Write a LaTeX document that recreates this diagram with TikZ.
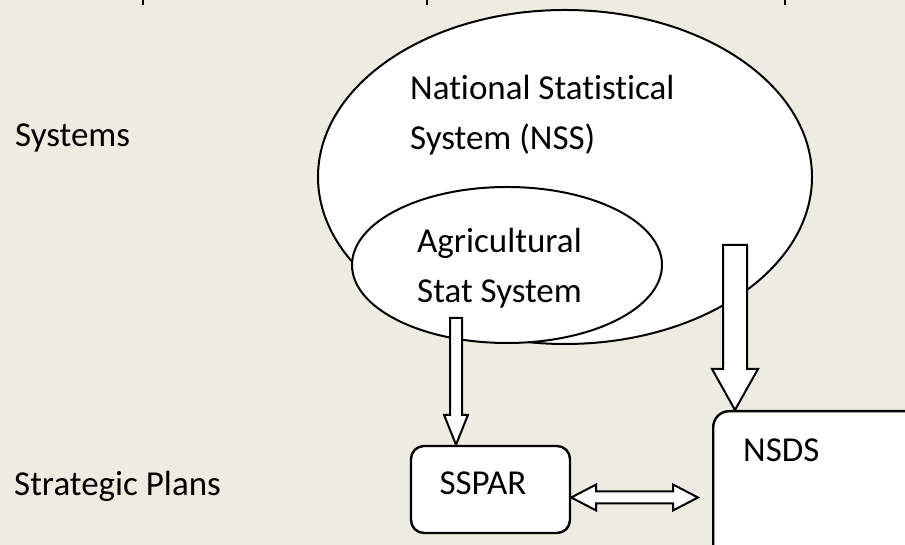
\documentclass[tikz,border=0pt]{standalone}
\usepackage{fontspec}
\setmainfont{Carlito}[Ligatures=NoCommon]
\usepackage{tikz}
\usetikzlibrary{calc,shapes.geometric}

\definecolor{slidebg}{HTML}{EEECE1}

% vertical block arrow: start, end, half shaft, half head, head length
\newcommand{\downblock}[5]{%
  \draw[blockarrow] let \p1=(#1), \p2=(#2) in
    (\x1-#3,\y1) -- (\x1+#3,\y1) -- (\x1+#3,\y2+#5) -- (\x1+#4,\y2+#5)
    -- (\x1,\y2) -- (\x1-#4,\y2+#5) -- (\x1-#3,\y2+#5) -- cycle;}

\begin{document}
\begin{tikzpicture}[%
    x=1pt, y=1pt,
    every node/.style={
        font=\fontsize{35}{50}\selectfont,
        inner sep=0pt,
    },
    oval/.style={draw, ellipse, fill=white, line width=2pt},
    planbox/.style={draw, fill=white, rounded corners=13pt, line width=2.4pt},
    blockarrow/.style={draw, fill=white, line width=2pt},
]

% background and page size
\fill[slidebg] (0,0) rectangle (905,545);
\clip (0,0) rectangle (905,545);

% cut-off strokes at the top edge
\foreach \x in {143,427,785}{
    \draw[line width=1.3pt] (\x,545) -- (\x,540);
}

% row labels
\node[anchor=base west] (sys) at (15,398) {Systems};
\node[anchor=base west] (plans) at (14,49) {Strategic Plans};

% the two systems
\node[oval, minimum width=494, minimum height=334] (nss) at (565,368) {};
\node[align=left, anchor=base west] (nsstext) at (410,395)
    {National Statistical\\System (NSS)};
\node[oval, minimum width=310, minimum height=156] (agri) at (507,280) {};
\node[align=left, anchor=base west] (agritext) at (417,242)
    {Agricultural\\Stat System};

% the two plans
\node[planbox, minimum width=159, minimum height=87] (sspar) at (490.5,55.5) {};
\node[anchor=base] at (483,50) {SSPAR};
\node[planbox, rounded corners=16pt, anchor=north west,
      minimum width=260, minimum height=180] (nsds) at (712,135) {};
\node[anchor=base west] at (743,83) {NSDS};

% arrows
\coordinate (agriout) at (456,227);
\coordinate (nssout) at (735,300);
\downblock{agriout}{sspar.north -| agriout}{6}{12}{30}
\downblock{nssout}{nsds.north -| nssout}{12}{23}{41}

\coordinate (linkl) at ($(sspar.east)+(0,-8)$);
\coordinate (linkr) at ($(nsds.west |- linkl)+(-14,0)$);
\draw[blockarrow] let \p1=(linkl), \p2=(linkr) in
    (\x1,\y1) -- (\x1+25,\y1+13) -- (\x1+25,\y1+6) -- (\x2-25,\y1+6)
    -- (\x2-25,\y1+13) -- (\x2,\y1) -- (\x2-25,\y1-13) -- (\x2-25,\y1-6)
    -- (\x1+25,\y1-6) -- (\x1+25,\y1-13) -- cycle;

\end{tikzpicture}
\end{document}
